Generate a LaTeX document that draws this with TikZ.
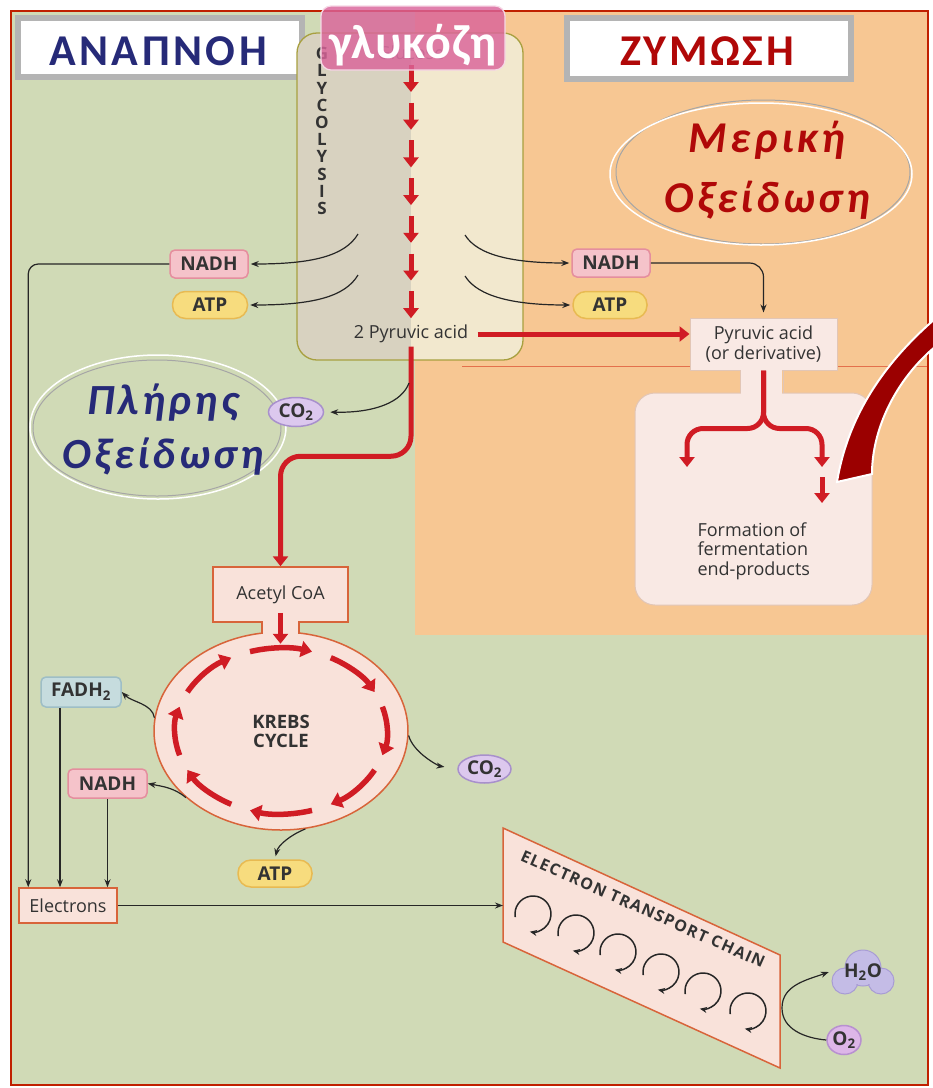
\documentclass[tikz,border=0pt]{standalone}
\usepackage{fontspec}
\setmainfont{Open Sans}
\newfontfamily\grkA[LetterSpace=8]{Carlito}
\newfontfamily\grkB[LetterSpace=6]{Carlito}
\newfontfamily\grkC[LetterSpace=8]{Carlito}
\newfontfamily\grkD[LetterSpace=2]{Carlito}
\newfontfamily\etcfont[LetterSpace=8]{Open Sans}
\usetikzlibrary{arrows.meta,shapes.geometric,calc}
\definecolor{bggreen}{HTML}{D0DAB6}
\definecolor{bgorange}{HTML}{F7C793}
\definecolor{framered}{HTML}{C02000}
\definecolor{thinred}{HTML}{E4704C}
\definecolor{arrred}{HTML}{D01C24}
\definecolor{navy}{HTML}{262A78}
\definecolor{darkred}{HTML}{B00808}
\definecolor{boxpink}{HTML}{F9E2DA}
\definecolor{boxborder}{HTML}{D8643A}
\definecolor{nadhfill}{HTML}{F5C3CA}
\definecolor{nadhdraw}{HTML}{E58E9E}
\definecolor{atpfill}{HTML}{F7DC7E}
\definecolor{atpdraw}{HTML}{E8BA52}
\definecolor{cofill}{HTML}{DCC8EE}
\definecolor{codraw}{HTML}{A890CC}
\definecolor{fadfill}{HTML}{C6DCDE}
\definecolor{faddraw}{HTML}{9EBEC6}
\definecolor{glyleft}{HTML}{D8D2C0}
\definecolor{glyright}{HTML}{F2E8CE}
\definecolor{glydraw}{HTML}{A8A040}
\definecolor{glucpink}{HTML}{DA649A}
\definecolor{titlegray}{HTML}{B4B4B4}
\definecolor{fermfill}{HTML}{F9E9E4}
\definecolor{fermdraw}{HTML}{E2C6B6}
\definecolor{swoosh}{HTML}{9B0000}
\definecolor{h2ofill}{HTML}{C4BCE6}
\definecolor{h2odraw}{HTML}{A89CD4}
\definecolor{o2fill}{HTML}{DDB6E8}
\definecolor{o2draw}{HTML}{B890D0}
\definecolor{txt}{HTML}{333333}
\newcommand\myLbl{\fontsize{18}{19.5}\selectfont}
\newcommand\myMol{\bfseries\fontsize{19}{19}\selectfont}
\begin{document}
\begin{tikzpicture}[x=1pt,y=1pt,
  redarrow/.style={draw=arrred, line width=5pt, -{Triangle[width=15pt,length=10pt]}},
  thinarrow/.style={draw=black!85, line width=1.2pt, -{Stealth[length=8pt,width=6pt]}},
  molnadh/.style={draw=nadhdraw, fill=nadhfill, line width=1.5pt, rounded corners=5pt, inner sep=0pt, font=\myMol, text=txt},
  molatp/.style={draw=atpdraw, fill=atpfill, line width=1.5pt, rounded corners=13pt, inner sep=0pt, font=\myMol, text=txt},
  molco/.style={ellipse, draw=codraw, fill=cofill, line width=1.5pt, inner sep=0pt, font=\myMol, text=txt},
  boxstyle/.style={draw=boxborder, fill=boxpink, line width=1.5pt, inner sep=0pt, font=\myLbl, text=txt},
  titlebox/.style={draw=titlegray, fill=white, line width=6pt},
  etcloop/.style={draw=black!85, line width=1.5pt, -{Stealth[length=7pt,width=6pt]}},
]
\useasboundingbox (0,0) rectangle (933,-1088);
\fill[white] (0,0) rectangle (933,-1088);
\fill[bggreen] (11,-11) rectangle (928,-1085);
\fill[bgorange] (415,-11) rectangle (928,-635);
\draw[thinred, line width=0.7pt] (462,-366) -- (928,-366);
\draw[framered, line width=2.5pt] (11,-11) rectangle (928,-1085);

% titles
\node[titlebox, minimum width=284pt, minimum height=59pt] (anapbox) at (160,-47.5) {};
\node[font=\grkA\bfseries\fontsize{44}{44}\selectfont, text=navy] (anap) at (158,-51) {ΑΝΑΠΝΟΗ};
\node[titlebox, minimum width=284pt, minimum height=61pt] (zymbox) at (709,-48.5) {};
\node[font=\grkB\bfseries\fontsize{44}{44}\selectfont, text=darkred] (zym) at (707,-51) {ΖΥΜΩΣΗ};

% ellipses
\node[ellipse, draw=white, line width=1.5pt, minimum width=256pt, minimum height=144pt] (ellP) at (158,-427) {};
\node[ellipse, draw=gray!70, line width=1pt, minimum width=248pt, minimum height=136pt] (ellP2) at (157,-428) {};
\node[font=\grkC\bfseries\itshape\fontsize{43}{54}\selectfont, text=navy, align=center] (txtP) at (163,-430) {Πλήρης\\Οξείδωση};
\node[ellipse, draw=gray!70, line width=1pt, minimum width=294pt, minimum height=144pt] (ellM2) at (763,-172) {};
\node[ellipse, draw=white, line width=1.5pt, minimum width=302pt, minimum height=142pt] (ellM) at (761,-174) {};
\node[font=\grkC\bfseries\itshape\fontsize{44}{60}\selectfont, text=darkred, align=center] (txtM) at (767,-170) {Μερική\\Οξείδωση};

% glycolysis box
\begin{scope}
\clip[rounded corners=20pt] (297,-33) rectangle (523,-360);
\fill[glyleft] (297,-33) rectangle (411,-360);
\fill[glyright] (411,-33) rectangle (523,-360);
\end{scope}
\draw[glydraw, line width=1.3pt, rounded corners=20pt] (297,-33) rectangle (523,-360);
\node[font=\bfseries\fontsize{17}{17.2}\selectfont, align=center, text=txt] (glyco) at (322,-131) {G\\L\\Y\\C\\O\\L\\Y\\S\\I\\S};
\node[font=\myLbl, text=gray] (glucose) at (411,-53) {Glucose};
\foreach \i in {0,...,6} { \draw[redarrow] (411,{-65-37.7*\i}) -- (411,{-92-37.7*\i}); }
\node[font=\myLbl, text=txt] (pyr) at (411,-334) {2 Pyruvic acid};

% glucose label box
\node[draw=white!75!glucpink, line width=1.2pt, fill=glucpink, fill opacity=0.82, rounded corners=10pt, minimum width=184pt, minimum height=64pt] (glucbox) at (413,-38) {};
\node[font=\grkD\bfseries\fontsize{48}{48}\selectfont, text=white] (gluc) at (413,-45) {γλυκόζη};

% NADH / ATP from glycolysis
\node[molnadh, minimum width=78pt, minimum height=28pt] (nadhL) at (209,-264) {NADH};
\node[molatp, minimum width=75pt, minimum height=27pt] (atpL) at (210,-305) {ATP};
\node[molnadh, minimum width=78pt, minimum height=28pt] (nadhR) at (611,-263) {NADH};
\node[molatp, minimum width=74pt, minimum height=27pt] (atpR) at (610,-305) {ATP};
\coordinate (gL1) at (358,-234);
\coordinate (gL2) at (358,-275);
\coordinate (gR1) at (465,-235);
\coordinate (gR2) at (465,-276);
\draw[thinarrow, shorten >=2pt] (gL1) .. controls (345,-256) and (312,-264) .. (nadhL.east);
\draw[thinarrow, shorten >=2pt] (gL2) .. controls (345,-297) and (312,-305) .. (atpL.east);
\draw[thinarrow, shorten >=2pt] (gR1) .. controls (478,-256) and (515,-263) .. (nadhR.west);
\draw[thinarrow, shorten >=2pt] (gR2) .. controls (478,-297) and (515,-305) .. (atpR.west);

% fermentation side
\node[draw=fermdraw, fill=fermfill, line width=1pt, minimum width=147pt, minimum height=52pt, align=center, font=\myLbl, text=txt, inner sep=0pt] (pyrbox) at (763.5,-344) {Pyruvic acid\\(or derivative)};
\draw[thinarrow, rounded corners=14pt, shorten >=5pt] (nadhR.east) -| (pyrbox.north);
\draw[redarrow] ([xshift=6pt]pyr.east) -- (pyr.east -| pyrbox.west);
\draw[fermdraw, fill=fermfill, line width=1pt, rounded corners=20pt] (635,-393) rectangle (872,-605);
\fill[fermfill] (741,-369.5) rectangle (782,-396);
\draw[fermdraw, line width=1pt] (740,-370) -- (740,-393) (783,-370) -- (783,-393);
\node[font=\myLbl, align=left, anchor=west, text=txt] (fermtxt) at (694,-551) {Formation of\\fermentation\\end-products};
\draw[redarrow, rounded corners=16pt] (pyrbox.south) -- ++(0,-58) -| (687,-467);
\draw[redarrow, rounded corners=16pt] (pyrbox.south) -- ++(0,-58) -| (822,-467);
\draw[redarrow] (822,-477) -- (822,-503);
\fill[swoosh, draw=white, line width=2pt] (936,-318) .. controls (885,-362) and (848,-415) .. (837,-482) -- (872,-474) .. controls (872,-430) and (895,-380) .. (936,-346) -- cycle;

% path to Krebs
\node[molco, minimum width=55pt, minimum height=29pt] (co2a) at (296,-412) {CO\textsubscript{2}};
\node[ellipse, draw=boxborder, fill=boxpink, line width=1.5pt, minimum width=254pt, minimum height=198pt] (krebs) at (281,-731) {};
\node[boxstyle, minimum width=135pt, minimum height=55pt] (acetyl) at (280.5,-594.5) {Acetyl CoA};
\fill[boxpink] (263,-619) rectangle (298,-641);
\draw[boxborder, line width=1.5pt] (262,-622) -- (262,-633.5) (299,-622) -- (299,-633.5);
\draw[draw=arrred, line width=5pt, rounded corners=20pt, -{Triangle[width=15pt,length=10pt]}] (pyr.south) |- ($(acetyl.north)+(0,110)$) -- (acetyl.north);
\coordinate (cbr) at (409,-383);
\draw[thinarrow, shorten >=6pt] (cbr) .. controls (402,-402) and (375,-413) .. (co2a.east);
\draw[redarrow] ($(acetyl.south)+(0,10)$) -- ($(acetyl.south)+(0,-21)$);
\foreach \c in {90,45,0,-45,-90,-135,-180,-225} {
  \draw[draw=arrred, line width=5.5pt, -{Triangle[width=16pt,length=11pt]}] ($(krebs.center)+({\c+17}:106 and 83)$) arc[start angle={\c+17}, end angle={\c-17}, x radius=106, y radius=83];
}
\node[font=\bfseries\fontsize{18.5}{19}\selectfont, align=center, text=txt] (krebstxt) at (krebs.center) {KREBS\\CYCLE};

\node[draw=faddraw, fill=fadfill, line width=1.5pt, rounded corners=5pt, inner sep=0pt, font=\myMol, text=txt, minimum width=80pt, minimum height=30pt] (fadh) at (81,-692) {FADH\textsubscript{2}};
\node[molnadh, minimum width=79pt, minimum height=29pt] (nadhK) at (107.5,-783.5) {NADH};
\node[molco, minimum width=53pt, minimum height=28pt] (co2b) at (484.5,-769) {CO\textsubscript{2}};
\node[molatp, minimum width=74pt, minimum height=27pt] (atpb) at (275,-873.5) {ATP};
\node[boxstyle, minimum width=98pt, minimum height=35pt] (electrons) at (68,-905.5) {Electrons};

\draw[thinarrow] (krebs.174) .. controls +(-2,14) and +(10,-10) .. (fadh.east);
\draw[thinarrow] (krebs.215) .. controls +(-12,10) and +(15,-3) .. (nadhK.east);
\draw[thinarrow, shorten >=13pt] (krebs.-2) .. controls +(5,-18) and +(-18,3) .. (co2b.west);
\draw[thinarrow, shorten >=3pt] (krebs.-76) .. controls +(-15,-6) and +(3,14) .. (atpb.north);

\draw[thinarrow, rounded corners=10pt] (nadhL.west) -| ($(electrons.north west)+(10,0)$);
\draw[thinarrow] ($(fadh.south)+(-21,0)$) coordinate (f1) -- (f1 |- electrons.north);
\draw[thinarrow] (nadhK.south) -- (nadhK.south |- electrons.north);

% electron transport chain
\coordinate (etc1) at (503,-828);
\coordinate (etc2) at (780,-955);
\coordinate (etc3) at (780,-1068);
\coordinate (etc4) at (503,-942);
\draw[boxborder, fill=boxpink, line width=1.5pt] (etc1) -- (etc2) -- (etc3) -- (etc4) -- cycle;
\coordinate (etcin) at (503,-905.5);
\draw[thinarrow] (electrons.east) -- (etcin);
\node[font=\etcfont\bfseries\fontsize{16}{16}\selectfont, rotate=-24, text=txt] (etctxt) at (643,-909) {ELECTRON TRANSPORT CHAIN};
\foreach \cx/\cy in {533/914, 576/933, 618/952, 661/972, 703/991, 748/1011} {
  \draw[etcloop] ({\cx+18*cos(190)},{-\cy+18*sin(190)}) arc[start angle=190, end angle=-100, radius=18];
}

% water and oxygen
\fill[h2ofill, draw=h2odraw, line width=1pt] (845,-981) circle (13) (881,-981) circle (13) (863,-968) circle (18);
\fill[h2ofill] (845,-981) circle (12) (881,-981) circle (12) (863,-968) circle (17);
\node[font=\myMol, text=txt, minimum width=68pt, inner sep=0pt] (h2o) at (863,-972) {H\textsubscript{2}O};
\node[ellipse, draw=o2draw, fill=o2fill, line width=1.5pt, minimum width=34pt, minimum height=29pt, inner sep=0pt, font=\myMol, text=txt] (o2) at (844,-1040) {O\textsubscript{2}};
\draw[thinarrow] (o2.west) to[out=175, in=-90] (782,-1008) to[out=90, in=200] (h2o.west);
\end{tikzpicture}
\end{document}
